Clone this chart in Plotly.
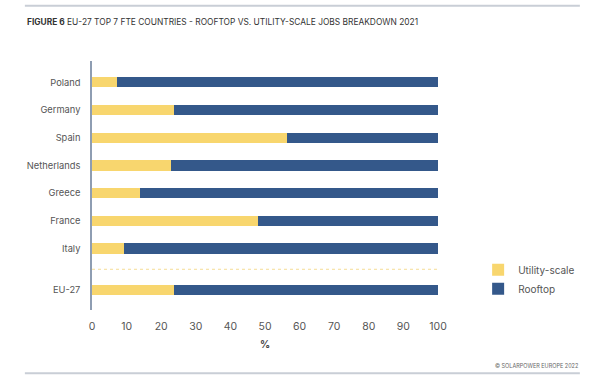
import plotly.graph_objects as go

countries = ["Poland", "Germany", "Spain", "Netherlands", "Greece", "France", "Italy", "EU-27"]
utility = [7.3, 23.6, 56.4, 22.7, 13.9, 47.9, 9.2, 23.7]
rooftop = [round(100 - u, 1) for u in utility]
ypos = [7.5, 6.5, 5.5, 4.5, 3.5, 2.5, 1.5, 0]
xticks = [0, 10, 20, 30, 40, 50, 60, 70, 80, 90, 100]

YELLOW = "#F8D66E"
BLUE = "#34588A"
FONT = "Inter, Roboto, sans-serif"

fig = go.Figure()
fig.add_trace(go.Bar(y=ypos, x=utility, orientation="h", name="Utility-scale",
                     marker=dict(color=YELLOW, line=dict(width=0)), width=0.37))
fig.add_trace(go.Bar(y=ypos, x=rooftop, orientation="h", name="Rooftop",
                     marker=dict(color=BLUE, line=dict(width=0)), width=0.37))

fig.update_layout(
    barmode="stack",
    width=600, height=378,
    margin=dict(l=92, r=162, t=61, b=68, autoexpand=False),
    paper_bgcolor="white", plot_bgcolor="white",
    font=dict(family=FONT, size=10, color="#555"),
    xaxis=dict(range=[0, 100], tickvals=xticks, showgrid=False, zeroline=False,
               showline=False, ticks="outside", ticklen=6, tickcolor="rgba(0,0,0,0)",
               tickfont=dict(size=10.5, color="#555"), automargin=False),
    yaxis=dict(range=[-0.72, 8.27], tickvals=ypos, ticktext=countries, showgrid=False,
               zeroline=False, showline=True, linecolor="#8E9DB2", linewidth=1.5,
               ticks="outside", ticklen=8, tickcolor="rgba(0,0,0,0)",
               tickfont=dict(size=9.3, color="#555"), automargin=False),
    legend=dict(x=1.116, y=0.22, xanchor="left", yanchor="top", traceorder="normal",
                font=dict(size=10, color="#555"), itemwidth=30),
    showlegend=True,
)

fig.add_shape(type="line", xref="x", yref="y", x0=0, x1=100, y0=0.75, y1=0.75,
              line=dict(color="#F5DC95", width=1, dash="dot"))
for yy in [1.222, -0.254]:
    fig.add_shape(type="line", xref="paper", yref="paper", x0=-0.194, x1=1.41, y0=yy, y1=yy,
                  line=dict(color="#C9CED6", width=2))

fig.add_annotation(xref="paper", yref="paper", x=-0.194, y=1.155, xanchor="left", yanchor="middle",
                   text="<b>FIGURE 6</b> EU-27 TOP 7 FTE COUNTRIES - ROOFTOP VS. UTILITY-SCALE JOBS BREAKDOWN 2021",
                   showarrow=False, font=dict(size=8.4, color="#333", family=FONT))
fig.add_annotation(xref="paper", yref="paper", x=0.5, y=-0.137, xanchor="center", yanchor="middle",
                   text="<b>%</b>", showarrow=False, font=dict(size=10, color="#444"))
fig.add_annotation(xref="paper", yref="paper", x=1.41, y=-0.225, xanchor="right", yanchor="middle",
                   text="© SOLARPOWER EUROPE 2022", showarrow=False,
                   font=dict(size=5.5, color="#666"))

fig.write_html("out.html", config={"displayModeBar": False},
               post_script="document.body.style.margin='0';document.body.style.padding='0';")
